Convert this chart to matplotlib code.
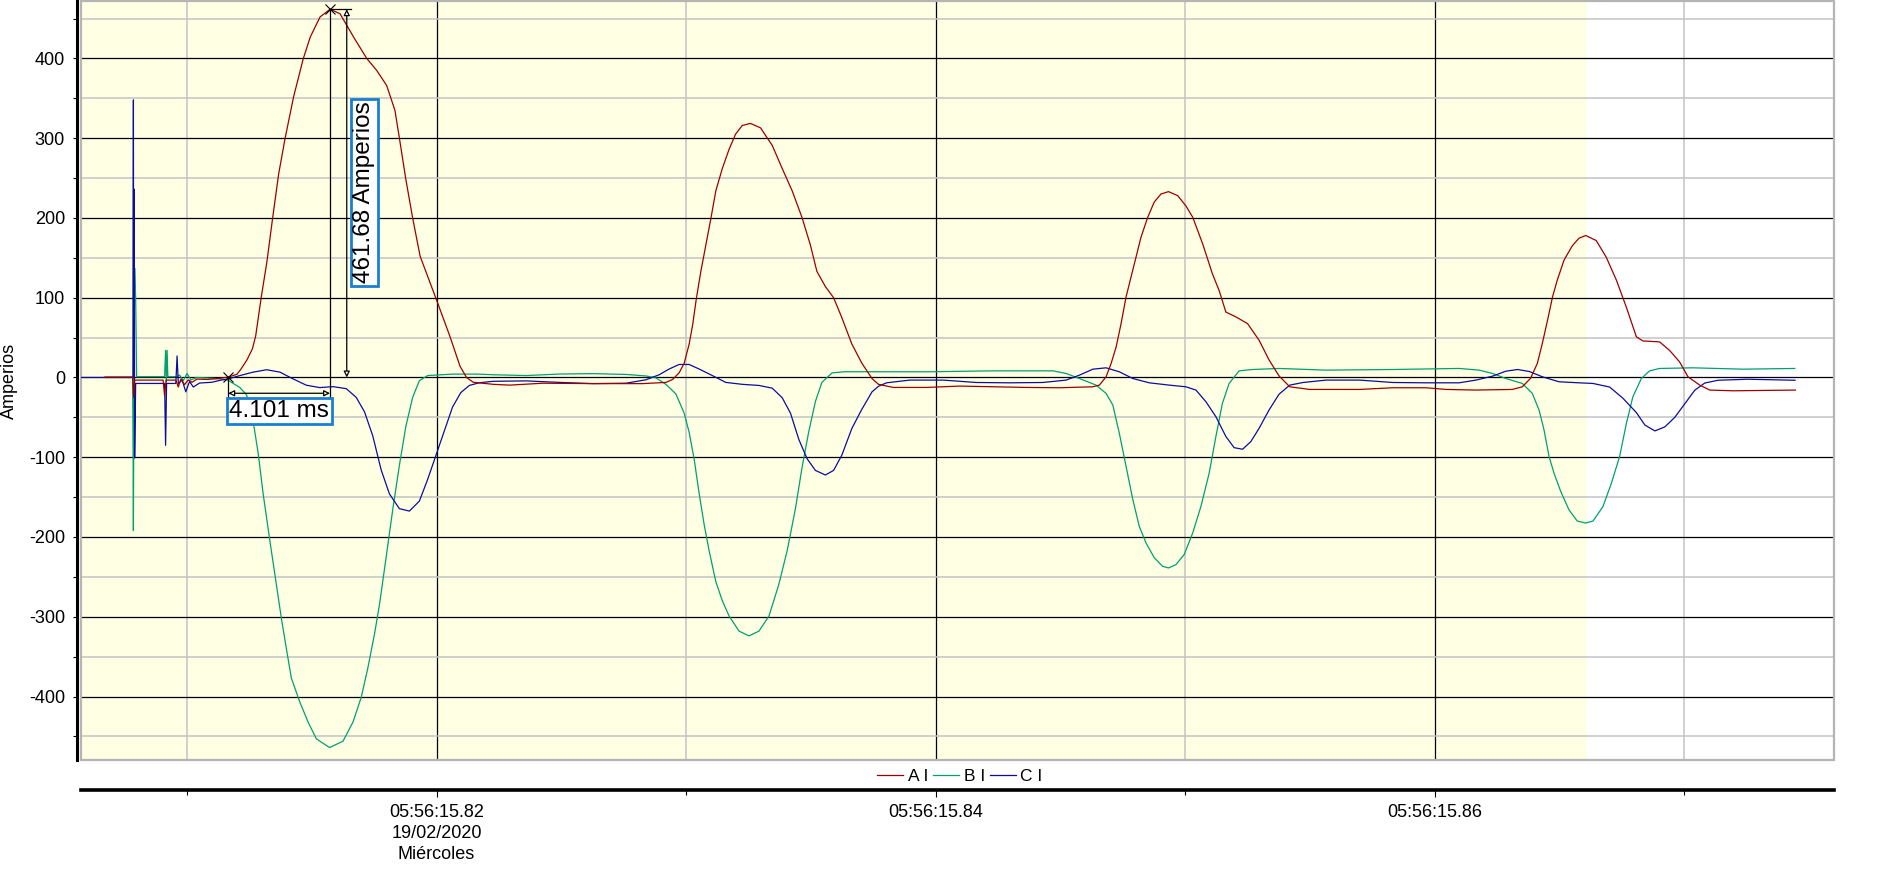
import matplotlib
matplotlib.use('Agg')
import matplotlib.pyplot as plt
from matplotlib.ticker import MultipleLocator
from matplotlib.patches import Rectangle

plt.rcParams['font.family'] = ['Liberation Sans', 'DejaVu Sans']
plt.rcParams['axes.unicode_minus'] = False

# tiempo en ms desde 05:56:15.82, corriente en amperios
fase_a = [(-13.29, 0.5), (-12.18, 0.5), (-12.14, -25), (-12.10, -3.3), (-10.96, -3.3), (-10.90, -23),
          (-10.84, -3.3), (-10.45, -3.3), (-10.35, -12), (-10.25, -2), (-10.10, -9), (-9.95, -3),
          (-9.80, -6), (-9.60, -2), (-9.20, -2.5), (-8.80, -1.5),
          (-8.35, 0.5), (-8.00, 4), (-7.85, 10), (-7.60, 22), (-7.38, 36), (-7.25, 52), (-7.03, 100),
          (-6.80, 145), (-6.57, 200), (-6.33, 255), (-6.07, 300), (-5.73, 352), (-5.34, 400),
          (-5.06, 427), (-4.67, 452), (-4.27, 461.7), (-3.87, 456), (-3.33, 427), (-2.80, 400),
          (-2.40, 385), (-2.00, 366), (-1.67, 335), (-1.49, 300), (-1.23, 248), (-0.96, 200),
          (-0.66, 152), (0.00, 97), (0.54, 51), (0.94, 14), (1.20, 0), (1.47, -6), (2.27, -8.6),
          (2.93, -9.6), (4.26, -7.2), (6.26, -7.7), (8.26, -7.7), (9.19, -6.2), (9.46, -2.4),
          (9.72, 5.8), (9.92, 17.7), (10.12, 41.7), (10.26, 65.7), (10.41, 99), (10.59, 133),
          (10.79, 166), (10.99, 199), (11.19, 234), (11.45, 262), (11.72, 286), (11.98, 305),
          (12.25, 316), (12.58, 318.5), (12.98, 313), (13.45, 291), (13.85, 262), (14.25, 234),
          (14.65, 200), (14.98, 166), (15.24, 133), (15.58, 114), (15.91, 100), (16.24, 75),
          (16.64, 42), (17.04, 18), (17.45, -1.4), (17.71, -8.6), (18.30, -12.5), (19.63, -12.5),
          (20.96, -10.8), (22.30, -11.7), (23.63, -12.5), (24.96, -12.9), (26.29, -11.7),
          (26.56, -9.6), (26.83, 0.8), (27.03, 17.5), (27.23, 38), (27.43, 67.5), (27.63, 101),
          (27.83, 126), (28.03, 151), (28.23, 176), (28.50, 201), (28.76, 220), (29.03, 230),
          (29.33, 233), (29.70, 228), (30.03, 215), (30.30, 201), (30.70, 167.5), (31.09, 130),
          (31.36, 109), (31.63, 82), (32.03, 76), (32.50, 67.5), (32.96, 46.7), (33.36, 22),
          (33.76, 2), (34.19, -11.7), (34.99, -15), (36.99, -15), (38.32, -12.9), (39.65, -12.9),
          (40.45, -15), (41.65, -15.8), (43.11, -15), (43.51, -11.7), (43.84, -1), (44.11, 17.5),
          (44.31, 42.5), (44.52, 71.7), (44.72, 101), (44.91, 122), (45.18, 147), (45.51, 165),
          (45.78, 174.6), (46.05, 178), (46.47, 171.7), (46.87, 151), (47.28, 122), (47.68, 88),
          (48.08, 51), (48.34, 45.8), (49.01, 44.6), (49.41, 34), (49.81, 19.6), (50.15, 0.8),
          (50.62, -9.6), (51.02, -15.8), (51.95, -16.7), (54.45, -15.8)]

fase_b = [(-13.29, 0), (-12.18, 0), (-12.16, -108), (-12.15, -192), (-12.13, 0), (-12.10, 137),
          (-12.06, 100), (-12.02, 1), (-10.90, 1), (-10.86, 34), (-10.83, -6), (-10.80, 34),
          (-10.77, 1), (-10.40, 1), (-10.30, 3), (-10.15, -4), (-10.00, 5), (-9.85, -3), (-9.60, 0),
          (-9.00, -1), (-8.60, -2),
          (-8.35, -3.6), (-7.88, -12.7), (-7.61, -22), (-7.35, -55), (-7.15, -95), (-6.95, -146),
          (-6.68, -205), (-6.41, -262), (-6.21, -304), (-6.02, -340), (-5.82, -377), (-5.48, -407),
          (-5.15, -432), (-4.82, -453), (-4.29, -464), (-3.75, -456), (-3.35, -432), (-3.02, -401),
          (-2.76, -365), (-2.49, -322), (-2.29, -285), (-2.02, -225), (-1.75, -164), (-1.49, -110),
          (-1.23, -61), (-0.96, -25), (-0.69, -4), (-0.36, 2.4), (0.64, 4.2), (1.68, 4.2),
          (2.27, 3.4), (3.60, 2.4), (4.93, 4.3), (6.26, 4.8), (7.59, 3.8), (8.39, 1.9),
          (8.79, -0.5), (9.19, -8.6), (9.59, -20.6), (9.92, -44.6), (10.12, -68.6), (10.32, -102),
          (10.52, -145), (10.72, -184), (10.92, -217), (11.19, -256), (11.45, -280), (11.72, -299),
          (12.12, -318), (12.52, -324), (12.92, -318), (13.32, -299), (13.71, -260), (14.05, -217),
          (14.38, -164.5), (14.65, -112), (14.91, -68.6), (15.18, -30.2), (15.44, -6.2),
          (15.85, 5.8), (16.38, 7.2), (17.71, 7.2), (19.63, 7.1), (22.30, 8.3), (24.70, 8.3),
          (25.23, 5), (25.76, -1.3), (26.43, -9.6), (26.83, -20), (27.10, -34.6), (27.36, -70),
          (27.63, -111.7), (27.90, -153), (28.16, -186.7), (28.43, -207.5), (28.76, -226),
          (29.09, -236.7), (29.33, -238.8), (29.63, -234.6), (29.96, -222), (30.30, -195),
          (30.63, -161.7), (30.96, -120), (31.23, -74), (31.49, -32.5), (31.76, -7.5),
          (32.16, 8.3), (32.70, 10), (33.76, 11.3), (35.65, 9.2), (38.32, 10), (40.98, 11.3),
          (41.78, 9.2), (42.32, 5), (42.85, -1.3), (43.51, -7.5), (43.91, -20), (44.18, -40.8),
          (44.38, -65.8), (44.58, -99), (44.78, -120), (45.05, -143), (45.38, -166),
          (45.71, -180), (46.05, -182.5), (46.34, -180), (46.74, -162), (47.08, -132.5),
          (47.41, -99), (47.68, -57.5), (47.94, -24.2), (48.28, -1.3), (48.61, 8.3),
          (49.01, 11.3), (50.35, 12.1), (52.35, 10.4), (54.43, 11.3)]

fase_c = [(-14.25, 0), (-12.17, 0), (-12.15, 348), (-12.14, 0), (-12.12, 236), (-12.10, -101),
          (-12.06, -7.5), (-10.90, -7.5), (-10.86, -85), (-10.82, -7.5), (-10.45, -7.5),
          (-10.40, 27), (-10.35, -8), (-10.20, -3), (-10.05, -18), (-9.90, -5), (-9.75, -12),
          (-9.50, -7), (-9.00, -6), (-8.68, -3.6), (-8.35, -1.8), (-7.88, 2.4), (-7.35, 6.7),
          (-6.81, 9.7), (-6.28, 6.7), (-5.75, -1.8), (-5.22, -9.7), (-4.68, -12.7), (-4.15, -11.5),
          (-3.62, -14), (-3.22, -25), (-2.89, -43), (-2.56, -73), (-2.22, -116), (-1.89, -146),
          (-1.49, -164.5), (-1.09, -167.5), (-0.69, -155), (-0.36, -128), (-0.03, -98),
          (0.31, -67), (0.64, -37), (0.97, -19), (1.31, -10), (1.70, -6.7), (2.27, -4.8),
          (3.60, -4.3), (4.93, -6.2), (6.26, -7.7), (7.59, -7.2), (8.39, -2.9), (8.92, 3.4),
          (9.32, 10.6), (9.72, 16.3), (10.12, 16.3), (10.52, 10.6), (11.05, 2.4), (11.59, -6.2),
          (12.25, -8.6), (12.92, -10), (13.45, -13.4), (13.85, -25.4), (14.18, -44.6),
          (14.52, -78), (14.85, -102), (15.18, -116.5), (15.58, -122.3), (15.91, -116.5),
          (16.24, -97.4), (16.64, -64), (17.04, -40), (17.45, -18), (17.71, -11), (18.03, -6.7),
          (18.96, -3.3), (20.30, -3.3), (21.63, -6.3), (22.97, -6.7), (24.29, -6.3), (25.23, -3.3),
          (25.76, 2.9), (26.30, 10.4), (26.83, 12.1), (27.36, 7.1), (27.90, -1.3), (28.56, -6.7),
          (29.36, -9.6), (30.03, -11.7), (30.43, -15.8), (30.83, -30.4), (31.23, -49.2),
          (31.63, -74), (31.96, -88), (32.30, -90), (32.63, -80.4), (32.96, -63.8), (33.36, -40.8),
          (33.76, -21), (34.19, -9.6), (34.72, -6.3), (35.65, -3.3), (36.99, -3.3), (38.32, -6.3),
          (39.65, -6.7), (40.98, -6.7), (41.65, -3.3), (42.32, 1.7), (42.85, 7.9), (43.32, 10),
          (43.79, 7.5), (44.32, 0.8), (44.98, -5.4), (45.78, -6.7), (46.34, -7.5), (47.01, -12),
          (47.54, -26), (48.08, -44), (48.42, -59.6), (48.82, -67), (49.22, -62), (49.62, -50),
          (50.02, -33), (50.42, -16), (50.82, -7), (51.35, -3.5), (52.55, -2.2), (54.44, -3.5)]

nombres = ['A I', 'B I', 'C I']
colores = ['#9c0000', '#00a070', '#0c0ca0']

tick_ms = [0, 20, 40]
tick_labels = ['05:56:15.82\n19/02/2020\nMiércoles', '05:56:15.84', '05:56:15.86']

ventana_fin = 46.09      # fin de la zona amarilla
t_inicio, a_inicio = -8.35, 0.5
t_pico, a_pico = -4.27, 461.68

x_lim = (-14.25, 56.0)
y_lim = (-479.6, 472.0)

fig = plt.figure(figsize=(18.86, 8.74), dpi=100)
ax = fig.add_axes([81 / 1886, 114 / 874, 1753 / 1886, 759 / 874])
ax.set_xlim(*x_lim)
ax.set_ylim(*y_lim)
ax.set_facecolor('white')
ax.axvspan(x_lim[0], ventana_fin, color='#ffffe3', lw=0, zorder=0)

ax.xaxis.set_major_locator(MultipleLocator(20))
ax.xaxis.set_minor_locator(MultipleLocator(10))
ax.yaxis.set_major_locator(MultipleLocator(100))
ax.yaxis.set_minor_locator(MultipleLocator(50))
ax.set_xticks(tick_ms, tick_labels)
ax.set_axisbelow(True)
ax.grid(which='major', color='black', lw=0.9)
ax.grid(which='minor', color='#c4c4c4', lw=1.1)

for s in ['top', 'right']:
    ax.spines[s].set_visible(False)
ax.spines['left'].set_position(('outward', 3))
ax.spines['left'].set_linewidth(2.2)
ax.spines['bottom'].set_position(('outward', 21.6))
ax.spines['bottom'].set_linewidth(2.6)
ax.add_patch(Rectangle((0, 0), 1, 1, transform=ax.transAxes, fill=False,
                       ec='#b4b4b4', lw=1.6, clip_on=False, zorder=3))

ax.tick_params(axis='y', which='both', length=3, width=0.8, pad=5.5, labelsize=13)
ax.tick_params(axis='x', which='major', length=5, width=0.8, pad=5, labelsize=13)
ax.tick_params(axis='x', which='minor', length=3.5, width=0.8)
for lab in ax.get_xticklabels():
    lab.set_verticalalignment('top')
    lab.set_linespacing(1.3)

ax.set_ylabel('Amperios', fontsize=13)
ax.yaxis.set_label_coords(-0.036, 0.5)

lineas = {}
for datos, nombre, color in [(fase_b, nombres[1], colores[1]), (fase_c, nombres[2], colores[2]),
                             (fase_a, nombres[0], colores[0])]:
    t = [p[0] for p in datos]
    a = [p[1] for p in datos]
    lineas[nombre], = ax.plot(t, a, color=color, lw=0.9, label=nombre, zorder=4)

# medicion de tiempo y amplitud
ax.plot([t_inicio, t_pico], [a_inicio, a_pico], 'x', color='black', ms=7, mew=0.8, zorder=6)
ax.plot([t_pico, t_pico], [a_pico, -24], color='black', lw=0.9, zorder=5)
ax.plot([t_inicio, t_inicio], [a_inicio, -24], color='black', lw=0.9, zorder=5)
ax.plot([t_pico, t_pico + 0.85], [a_pico, a_pico], color='black', lw=0.9, zorder=5)
flecha = dict(arrowstyle='<|-|>', ec='black', fc='white', lw=0.9, mutation_scale=9,
              shrinkA=0, shrinkB=0)
ax.annotate('', xy=(t_inicio, -19.8), xytext=(t_pico, -19.8), arrowprops=flecha, zorder=5)
ax.annotate('', xy=(t_pico + 0.67, 0), xytext=(t_pico + 0.67, a_pico), arrowprops=flecha, zorder=5)

caja = dict(boxstyle='square,pad=0.1', fc='white', ec='#1a7fd4', lw=2)
ax.text((t_inicio + t_pico) / 2, -42, '4.101 ms', ha='center', va='center', fontsize=17.5,
        bbox=caja, zorder=7)
ax.text(t_pico + 1.37, 232, '461.68 Amperios', rotation=90, ha='center', va='center',
        fontsize=17.5, bbox=caja, zorder=7)

fig.legend(handles=[lineas[n] for n in nombres], labels=nombres, loc='center',
           bbox_to_anchor=(960 / 1886, 1 - 776 / 874), ncol=3, frameon=False, fontsize=12.5,
           handlelength=1.5, handletextpad=0.25, columnspacing=0.3, borderpad=0)

fig.savefig('out.png', dpi=100)
